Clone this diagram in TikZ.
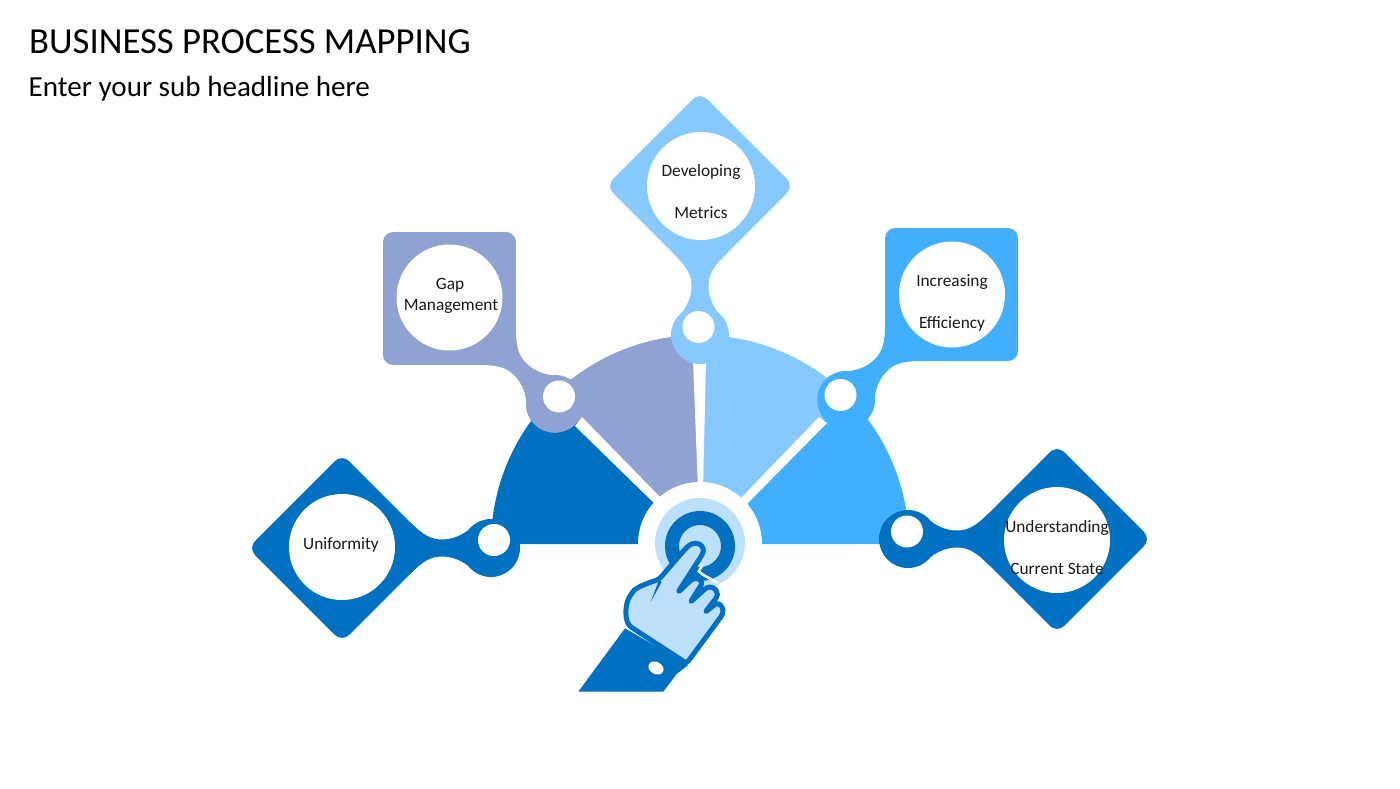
\documentclass[tikz,border=0pt]{standalone}
\usepackage{fontspec}
\setmainfont{Carlito}
\definecolor{cdark}{HTML}{0070C0}
\definecolor{cslate}{HTML}{8FA2D2}
\definecolor{clight}{HTML}{85C9FF}
\definecolor{cmid}{HTML}{41AEFF}
\definecolor{cpale}{HTML}{BDE0FC}
\newcommand{\pinshape}[3]{%
  \begin{scope}[shift={(#1)},rotate=#2]
    \fill[#3] (-149,0) circle[radius=29pt];
    \fill[#3,rounded corners=10pt] (-94,0) -- (0,-94) -- (94,0) -- (0,94) -- cycle;
    \fill[#3] (-130,-21) .. controls (-121,-13) and (-111,-8.5) .. (-100,-8.5)
      .. controls (-89,-8.5) and (-81,-13) .. (-68,-26) -- (-68,26)
      .. controls (-81,13) and (-89,8.5) .. (-100,8.5)
      .. controls (-111,8.5) and (-121,13) .. (-130,21) -- cycle;
  \end{scope}}
\tikzset{
  hole/.style={fill=white,draw=none},
  lbl/.style={font=\fontsize{17.3}{20}\selectfont,text=black!90,inner sep=0pt,anchor=base},
}
\begin{document}
\begin{tikzpicture}[x=1pt,y=-1pt]
\useasboundingbox (0,0) rectangle (1400,788);
\node[anchor=base west,inner sep=0pt,font=\fontsize{36.7}{40}\selectfont] (title) at (29,53) {BUSINESS PROCESS MAPPING};
\node[anchor=base west,inner sep=0pt,font=\fontsize{29.1}{32}\selectfont] (sub) at (28.5,96) {Enter your sub headline here};
% half disc
\fill[cdark] (491,544) arc[start angle=180,end angle=135,radius=209pt] -- (700,544) -- cycle;
\fill[cslate] (700,544) -- ++(-147.8,-147.8) arc[start angle=135,end angle=90,radius=209pt] -- cycle;
\fill[clight] (700,544) -- (700,335) arc[start angle=90,end angle=45,radius=209pt] -- cycle;
\fill[cmid] (700,544) -- ++(147.8,-147.8) arc[start angle=45,end angle=0,radius=209pt] -- cycle;
\fill[white] (575,426) -- (582,417) -- (661,498) -- (655,504) -- cycle;
\fill[white] (819,417) -- (827,423) -- (747,504) -- (741,498) -- cycle;
\fill[white] (693,360) -- (706,360) -- (703,490) -- (698,490) -- cycle;
\fill[white] (700,544) circle[radius=62pt];
% pins
\pinshape{342,548}{180}{cdark}
\pinshape{449.5,298.5}{135}{cslate}
\pinshape{700,186}{90}{clight}
\pinshape{951.5,294.5}{45}{cmid}
\pinshape{1057,539}{0}{cdark}
\fill[hole] (342,547) circle[radius=53pt];
\fill[hole] (449.5,297.5) circle[radius=53pt];
\fill[hole] (701,186) circle[radius=54pt];
\fill[hole] (952,294.5) circle[radius=53pt];
\fill[hole] (1057,540) circle[radius=53pt];
\fill[hole] (494,540) circle[radius=16pt];
\fill[hole] (559,396.5) circle[radius=16pt];
\fill[hole] (698.5,327) circle[radius=16pt];
\fill[hole] (840.5,395) circle[radius=16pt];
\fill[hole] (907,531.5) circle[radius=16pt];
% labels
\node[lbl] (u1) at (341,549) {Uniformity};
\node[lbl] (g1) at (450,289) {Gap};
\node[lbl] (g2) at (451,310) {Management};
\node[lbl] (d1) at (701,176) {Developing};
\node[lbl] (d2) at (701,218) {Metrics};
\node[lbl] (i1) at (952,286) {Increasing};
\node[lbl] (i2) at (952,328) {Efficiency};
\node[lbl] (c1) at (1057,532) {Understanding};
\node[lbl] (c2) at (1057,574) {Current State};
% target + hand
\fill[cpale] (700,543) circle[radius=45pt];
\fill[cdark,even odd rule] (700,546) circle[radius=35pt] (700,546) circle[radius=21pt];
\begin{scope}[shift={(560,470)},x=0.3333pt,y=-0.3333pt]
  \def\handpath{(208,468) .. controls (194,440) and (196,400) .. (214,372) .. controls (228,352) and (262,340) .. (297,328) -- (380,232) -- (396,220) -- (418,220) -- (432,236) -- (428,252) -- (353,368) -- (398,326) -- (416,325) -- (428,338) -- (390,398) -- (440,352) -- (460,351) -- (472,366) -- (472,380) -- (434,428) -- (472,398) -- (488,410) -- (489,432) -- (380,580) -- cycle}
  \draw[white,line width=2.5pt,line cap=round] (428,285) -- (416,304) -- (432,316) -- (472,338);
  \fill[cdark] (55,665) -- (310,665) -- (350,612) -- (385,585) -- (195,475) -- cycle;
  \draw[cdark,fill=cpale,line width=5pt,line join=round,rounded corners=3pt] \handpath;
  \fill[cdark] (297,330) -- (305,336) -- (272,396) -- cycle;
  \fill[white,rotate around={-30:(288,594)}] (288,594) ellipse[x radius=8pt,y radius=6pt];
\end{scope}
\end{tikzpicture}
\end{document}
